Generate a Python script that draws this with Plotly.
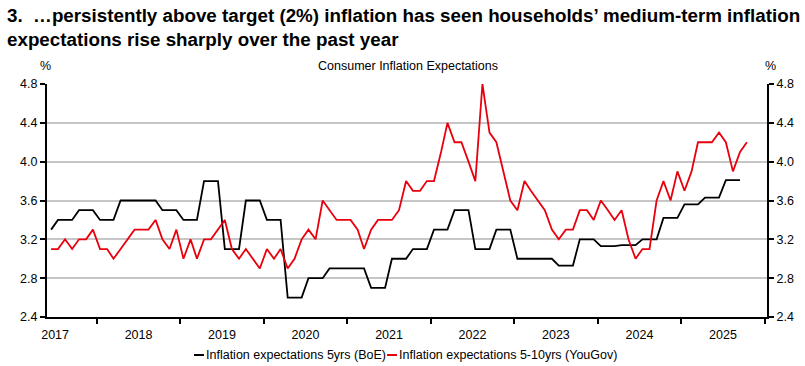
import pandas as pd
import plotly.graph_objects as go

# ---------------- data ----------------
months_boe = pd.date_range("2017-06-01", periods=100, freq="MS") + pd.Timedelta(days=14)
months_yougov = pd.date_range("2017-06-01", periods=101, freq="MS") + pd.Timedelta(days=14)

boe_5yr = [
    3.3, 3.4, 3.4, 3.4, 3.5, 3.5, 3.5, 3.4, 3.4, 3.4,
    3.6, 3.6, 3.6, 3.6, 3.6, 3.6, 3.5, 3.5, 3.5, 3.4,
    3.4, 3.4, 3.8, 3.8, 3.8, 3.1, 3.1, 3.1, 3.6, 3.6,
    3.6, 3.4, 3.4, 3.4, 2.6, 2.6, 2.6, 2.8, 2.8, 2.8,
    2.9, 2.9, 2.9, 2.9, 2.9, 2.9, 2.7, 2.7, 2.7, 3.0,
    3.0, 3.0, 3.1, 3.1, 3.1, 3.3, 3.3, 3.3, 3.5, 3.5,
    3.5, 3.1, 3.1, 3.1, 3.3, 3.3, 3.3, 3.0, 3.0, 3.0,
    3.0, 3.0, 3.0, 2.93, 2.93, 2.93, 3.2, 3.2, 3.2, 3.13,
    3.13, 3.13, 3.14, 3.14, 3.14, 3.2, 3.2, 3.2, 3.42, 3.42,
    3.42, 3.56, 3.56, 3.56, 3.63, 3.63, 3.63, 3.81, 3.81, 3.81,
]

yougov_5_10yr = [
    3.1, 3.1, 3.2, 3.1, 3.2, 3.2, 3.3, 3.1, 3.1, 3.0,
    3.1, 3.2, 3.3, 3.3, 3.3, 3.4, 3.2, 3.1, 3.3, 3.0,
    3.2, 3.0, 3.2, 3.2, 3.3, 3.4, 3.1, 3.0, 3.1, 3.0,
    2.9, 3.1, 3.0, 3.1, 2.9, 3.0, 3.2, 3.3, 3.2, 3.6,
    3.5, 3.4, 3.4, 3.4, 3.3, 3.1, 3.3, 3.4, 3.4, 3.4,
    3.5, 3.8, 3.7, 3.7, 3.8, 3.8, 4.1, 4.4, 4.2, 4.2,
    4.0, 3.8, 4.8, 4.3, 4.2, 3.9, 3.6, 3.5, 3.8, 3.7,
    3.6, 3.5, 3.3, 3.2, 3.3, 3.3, 3.5, 3.5, 3.4, 3.6,
    3.5, 3.4, 3.5, 3.2, 3.0, 3.1, 3.1, 3.6, 3.8, 3.6,
    3.9, 3.7, 3.9, 4.2, 4.2, 4.2, 4.3, 4.2, 3.9, 4.1,
    4.2,
]

y_ticks = [2.4, 2.8, 3.2, 3.6, 4.0, 4.4, 4.8]
y_tick_text = ["2.4", "2.8", "3.2", "3.6", "4.0", "4.4", "4.8"]

name_boe = "Inflation expectations 5yrs (BoE)"
name_yougov = "Inflation expectations 5-10yrs (YouGov)"
title_line1 = "3.  \u2026persistently above target (2%) inflation has seen households\u2019 medium-term inflation"
title_line2 = "expectations rise sharply over the past year"
chart_title = "Consumer Inflation Expectations"

# ---------------- figure ----------------
FONT = "Liberation Sans, Arial, sans-serif"
BLACK = "#000000"
RED = "#e8000d"

fig = go.Figure()
fig.add_trace(go.Scatter(x=months_boe, y=boe_5yr, mode="lines", name=name_boe,
                         line=dict(color=BLACK, width=1.8), showlegend=False))
fig.add_trace(go.Scatter(x=months_yougov, y=yougov_5_10yr, mode="lines", name=name_yougov,
                         line=dict(color=RED, width=1.8), showlegend=False))
# invisible trace to carry the right-hand axis
fig.add_trace(go.Scatter(x=months_yougov, y=yougov_5_10yr, mode="lines", yaxis="y2",
                         line=dict(color="rgba(0,0,0,0)", width=0), showlegend=False,
                         hoverinfo="skip"))

W, H = 805, 366
ml, mr, mt, mb = 47, 38, 84, 49
pw, ph = W - ml - mr, H - mt - mb

def px_x(x):
    return (x - ml) / pw

def px_y(y):
    return 1 + (mt - y) / ph

axis_font = dict(family=FONT, size=12.5, color="#000000")

fig.update_layout(
    width=W, height=H,
    margin=dict(l=ml, r=mr, t=mt, b=mb),
    paper_bgcolor="white", plot_bgcolor="white",
    font=dict(family=FONT, color="#000000"),
    xaxis=dict(
        type="date",
        range=["2017-05-28", "2026-01-11"],
        dtick="M12", tick0="2017-01-01", tickformat="%Y",
        ticklabelmode="period",
        ticks="outside", ticklen=5, tickwidth=2, tickcolor=BLACK,
        showline=True, linecolor=BLACK, linewidth=2,
        showgrid=False, zeroline=False,
        tickfont=axis_font,
    ),
    yaxis=dict(
        range=[2.4, 4.8], tickvals=y_ticks, ticktext=y_tick_text,
        ticks="outside", ticklen=5, tickwidth=2, tickcolor=BLACK,
        showline=True, linecolor=BLACK, linewidth=2,
        showgrid=True, gridcolor="#c6c6c6", gridwidth=1.6,
        zeroline=False, tickfont=axis_font,
    ),
    yaxis2=dict(
        range=[2.4, 4.8], tickvals=y_ticks, ticktext=y_tick_text,
        overlaying="y", side="right",
        ticks="outside", ticklen=5, tickwidth=2, tickcolor=BLACK,
        showline=True, linecolor=BLACK, linewidth=2,
        showgrid=False, zeroline=False, tickfont=axis_font,
    ),
    showlegend=False,
)

legend_y = 355
annotations = [
    dict(text=f"<b>{title_line1}</b>", x=px_x(5), y=px_y(15), xanchor="left", yanchor="middle",
         font=dict(family=FONT, size=18.8, color="#000000")),
    dict(text=f"<b>{title_line2}</b>", x=px_x(5), y=px_y(40), xanchor="left", yanchor="middle",
         font=dict(family=FONT, size=18.8, color="#000000")),
    dict(text=chart_title, x=px_x(408), y=px_y(66), xanchor="center", yanchor="middle",
         font=dict(family=FONT, size=12.5, color="#000000")),
    dict(text="%", x=px_x(45), y=px_y(66), xanchor="center", yanchor="middle",
         font=dict(family=FONT, size=12.5, color="#000000")),
    dict(text="%", x=px_x(770), y=px_y(66), xanchor="center", yanchor="middle",
         font=dict(family=FONT, size=12.5, color="#000000")),
    dict(text=name_boe, x=px_x(204), y=px_y(legend_y), xanchor="left", yanchor="middle",
         font=dict(family=FONT, size=12.5, color="#000000")),
    dict(text=name_yougov, x=px_x(397), y=px_y(legend_y), xanchor="left", yanchor="middle",
         font=dict(family=FONT, size=12.5, color="#000000")),
]
for a in annotations:
    a.update(xref="paper", yref="paper", showarrow=False)

legend_marks = [
    dict(type="line", xref="paper", yref="paper",
         x0=px_x(194), x1=px_x(204), y0=px_y(legend_y), y1=px_y(legend_y),
         line=dict(color=BLACK, width=2)),
    dict(type="line", xref="paper", yref="paper",
         x0=px_x(387), x1=px_x(397), y0=px_y(legend_y), y1=px_y(legend_y),
         line=dict(color=RED, width=2)),
]
fig.update_layout(annotations=annotations, shapes=legend_marks)

fig.write_html(
    "out.html",
    config={"displayModeBar": False},
    post_script="document.body.style.margin='0';document.body.style.padding='0';",
)
